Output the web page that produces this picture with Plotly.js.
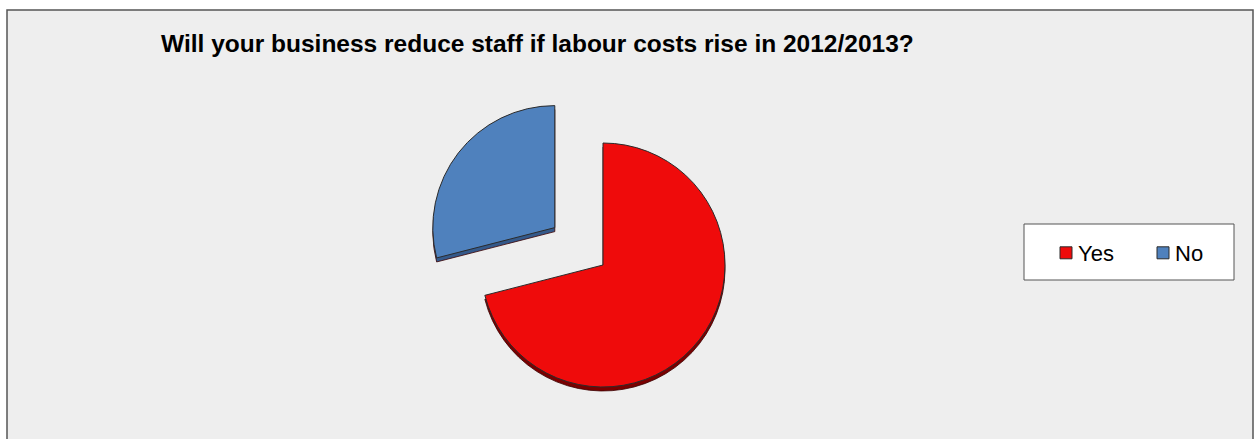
<!DOCTYPE html>
<html>
<head>
<meta charset="utf-8">
<script src="https://cdn.plot.ly/plotly-3.0.1.min.js"></script>
<style>
html, body { margin: 0; padding: 0; background: #ffffff; overflow: hidden; }
#chart { width: 1255px; height: 480px; }
#chart .legendtext { transform: translateX(-8px); }
</style>
</head>
<body>
<div id="chart"></div>
<script>
// ---- data ----
const categories = ['Yes', 'No'];
const shares = [71, 29];
const pulls = [0, 0.5];
const topColors = ['#EF0B0B', '#4F81BD'];
const rimColors = ['#7A0000', '#34598A'];
const chartTitle = 'Will your business reduce staff if labour costs rise in 2012/2013?';

// ---- layout helpers (pixel -> paper, figure is 1255 x 480 with zero margins) ----
const W = 1255, H = 480;
const px = x => x / W;
const py = y => 1 - y / H;

const cx = 603, cy = 265, half = 183, halfH = 200, rim = 4;

const shadowTrace = {
  type: 'pie',
  labels: categories,
  values: shares,
  pull: pulls,
  sort: false,
  direction: 'clockwise',
  rotation: 0,
  textinfo: 'none',
  hoverinfo: 'skip',
  showlegend: false,
  marker: { colors: rimColors, line: { color: '#3a0000', width: 0.8 } },
  domain: { x: [px(cx - half), px(cx + half)], y: [py(cy + halfH + rim), py(cy - halfH + rim)] }
};

const mainTrace = {
  type: 'pie',
  labels: categories,
  values: shares,
  pull: pulls,
  sort: false,
  direction: 'clockwise',
  rotation: 0,
  textinfo: 'none',
  hoverinfo: 'label+percent',
  marker: { colors: topColors, line: { color: '#2b2b2b', width: 1 } },
  domain: { x: [px(cx - half), px(cx + half)], y: [py(cy + halfH), py(cy - halfH)] }
};

const layout = {
  width: W,
  height: H,
  margin: { l: 0, r: 0, t: 0, b: 0 },
  paper_bgcolor: '#ffffff',
  title: {
    text: chartTitle,
    font: { family: 'Liberation Sans, Arial, sans-serif', size: 24.5, color: '#000000', weight: 'bold' },
    xref: 'paper', yref: 'container',
    x: px(161), xanchor: 'left',
    y: 1 - 35 / H, yanchor: 'top'
  },
  showlegend: true,
  legend: {
    orientation: 'h',
    x: px(1046), xanchor: 'left',
    y: py(253), yanchor: 'middle',
    bgcolor: 'rgba(0,0,0,0)',
    borderwidth: 0,
    entrywidth: 52,
    font: { family: 'Liberation Sans, Arial, sans-serif', size: 22, color: '#000000' },
    traceorder: 'normal'
  },
  shapes: [
    { type: 'rect', xref: 'paper', yref: 'paper', layer: 'below',
      x0: px(7), x1: px(1253), y0: py(478), y1: py(10),
      fillcolor: '#EEEEEE', line: { color: '#555555', width: 1.5 } },
    { type: 'rect', xref: 'paper', yref: 'paper', layer: 'below',
      x0: px(1024), x1: px(1234), y0: py(280), y1: py(224),
      fillcolor: '#FFFFFF', line: { color: '#555555', width: 1 } }
  ]
};

Plotly.newPlot('chart', [shadowTrace, mainTrace], layout, { displayModeBar: false, staticPlot: true });
</script>
</body>
</html>
